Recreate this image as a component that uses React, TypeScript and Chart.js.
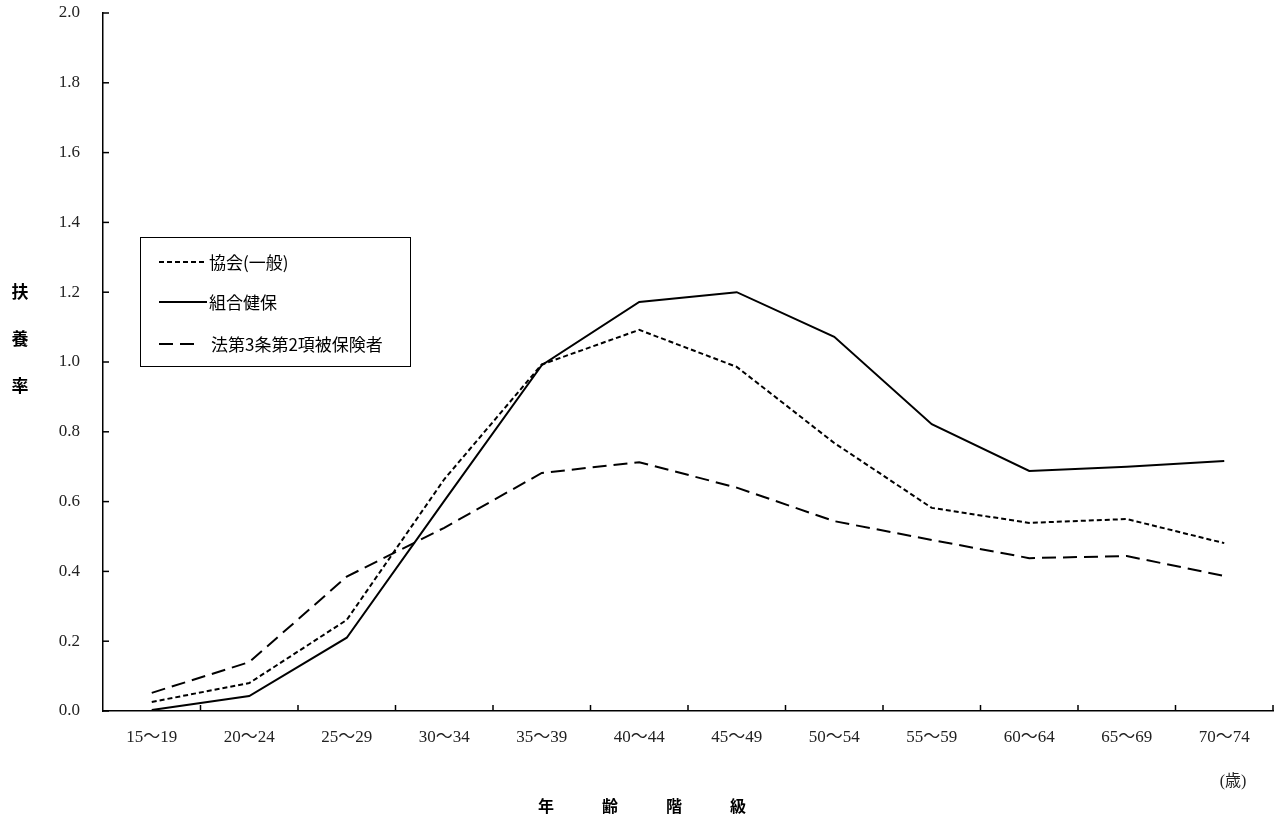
import React, { useEffect, useRef } from 'react';
import { Chart, registerables } from 'chart.js';

Chart.register(...registerables);

const categories = ['15～19', '20～24', '25～29', '30～34', '35～39', '40～44', '45～49', '50～54', '55～59', '60～64', '65～69', '70～74'];
const kyokai = [0.026, 0.08, 0.261, 0.664, 0.993, 1.092, 0.986, 0.768, 0.582, 0.539, 0.55, 0.481];
const kumiai = [0.003, 0.043, 0.21, 0.602, 0.991, 1.172, 1.2, 1.072, 0.822, 0.688, 0.7, 0.716];
const hou3 = [0.052, 0.14, 0.385, 0.525, 0.682, 0.713, 0.64, 0.544, 0.49, 0.438, 0.444, 0.387];
const seriesNames = ['協会(一般)', '組合健保', '法第3条第2項被保険者'];
const yTitleChars = ['扶', '養', '率'];
const xTitleChars = ['年', '齢', '階', '級'];
const unitLabel = '(歳)';
const Y_MIN = 0;
const Y_MAX = 2.0;
const Y_STEP = 0.2;

const overlay = {
  id: 'overlay',
  afterDraw(chart: any) {
    const { ctx, chartArea } = chart;
    const x = chart.scales.x;
    const y = chart.scales.y;
    ctx.save();
    ctx.strokeStyle = '#000';
    ctx.lineWidth = 1.5;
    ctx.setLineDash([]);
    // inward y ticks
    y.ticks.forEach((_t: any, i: number) => {
      const py = y.getPixelForTick(i);
      ctx.beginPath();
      ctx.moveTo(chartArea.left, py);
      ctx.lineTo(chartArea.left + 6, py);
      ctx.stroke();
    });
    // inward x ticks at category boundaries
    const n = x.ticks.length;
    for (let i = 1; i <= n; i++) {
      const px = i < n ? (x.getPixelForTick(i - 1) + x.getPixelForTick(i)) / 2 : chartArea.right;
      ctx.beginPath();
      ctx.moveTo(px, chartArea.bottom);
      ctx.lineTo(px, chartArea.bottom - 6);
      ctx.stroke();
    }

    // legend box
    const bx = 140, by = 237, bw = 270, bh = 129;
    ctx.fillStyle = '#fff';
    ctx.fillRect(bx, by, bw, bh);
    ctx.lineWidth = 1;
    ctx.strokeRect(bx + 0.5, by + 0.5, bw, bh);
    const rows = [262, 302, 344];
    chart.data.datasets.forEach((ds: any, i: number) => {
      const ry = rows[i];
      ctx.beginPath();
      ctx.lineWidth = 2;
      ctx.setLineDash(ds.borderDash || []);
      ctx.moveTo(159, ry);
      ctx.lineTo(i === 2 ? 199 : 207, ry);
      ctx.stroke();
      ctx.setLineDash([]);
      ctx.fillStyle = '#000';
      ctx.font = '17px "Noto Sans CJK JP"';
      ctx.textAlign = 'left';
      ctx.textBaseline = 'middle';
      ctx.fillText(ds.label, i === 2 ? 211 : 209, ry + 1);
    });

    // y title (stacked)
    ctx.fillStyle = '#000';
    ctx.font = 'bold 17px "Noto Sans CJK JP"';
    ctx.textAlign = 'center';
    ctx.textBaseline = 'middle';
    const yPos = [292, 339, 386];
    yTitleChars.forEach((c, i) => ctx.fillText(c, 20, yPos[i]));

    // x title
    const xPos = [546, 610, 674, 738];
    ctx.font = 'bold 16px "Noto Sans CJK JP"';
    xTitleChars.forEach((c, i) => ctx.fillText(c, xPos[i], 806));

    // unit
    ctx.font = '16px "Liberation Serif", "Noto Sans CJK JP"';
    ctx.fillStyle = '#222';
    ctx.fillText(unitLabel, 1233, 782);
    ctx.restore();
  },
};

export default function App() {
  const ref = useRef<HTMLCanvasElement | null>(null);
  useEffect(() => {
    if (!ref.current) return;
    const chart = new Chart(ref.current, {
      type: 'line',
      data: {
        labels: categories,
        datasets: [
          { label: seriesNames[0], data: kyokai, borderColor: '#000', borderWidth: 2, borderDash: [5, 3], pointRadius: 0, tension: 0, fill: false },
          { label: seriesNames[1], data: kumiai, borderColor: '#000', borderWidth: 2, borderDash: [], pointRadius: 0, tension: 0, fill: false },
          { label: seriesNames[2], data: hou3, borderColor: '#000', borderWidth: 2, borderDash: [14, 7], pointRadius: 0, tension: 0, fill: false },
        ],
      },
      options: {
        responsive: false,
        animation: false,
        layout: { padding: { top: 13, right: 7, left: 0, bottom: 0 } },
        plugins: { legend: { display: false }, tooltip: { enabled: false }, title: { display: false } },
        scales: {
          x: {
            type: 'category',
            offset: true,
            grid: { display: false, drawTicks: false },
            border: { display: true, color: '#000', width: 1.5 },
            ticks: { color: '#222', font: { family: '"Liberation Serif", "Noto Sans CJK JP"', size: 17 }, padding: 16, maxRotation: 0, autoSkip: false },
            afterFit: (s: any) => { s.height = 114; s.paddingLeft = 0; s.paddingRight = 0; },
          },
          y: {
            min: Y_MIN,
            max: Y_MAX,
            grid: { display: false, drawTicks: false },
            border: { display: true, color: '#000', width: 1.5 },
            ticks: {
              stepSize: Y_STEP,
              color: '#222',
              font: { family: '"Liberation Serif"', size: 17 },
              padding: 23,
              callback: (v: any) => Number(v).toFixed(1),
            },
            afterFit: (s: any) => { s.width = 103; s.paddingTop = 0; s.paddingBottom = 0; },
          },
        },
      },
      plugins: [overlay],
    });
    return () => chart.destroy();
  }, []);
  return (
    <div style={{ position: 'absolute', left: 0, top: 0, width: 1280, height: 825, background: '#fff' }}>
      <canvas ref={ref} width={1280} height={825} style={{ display: 'block' }} />
    </div>
  );
}
